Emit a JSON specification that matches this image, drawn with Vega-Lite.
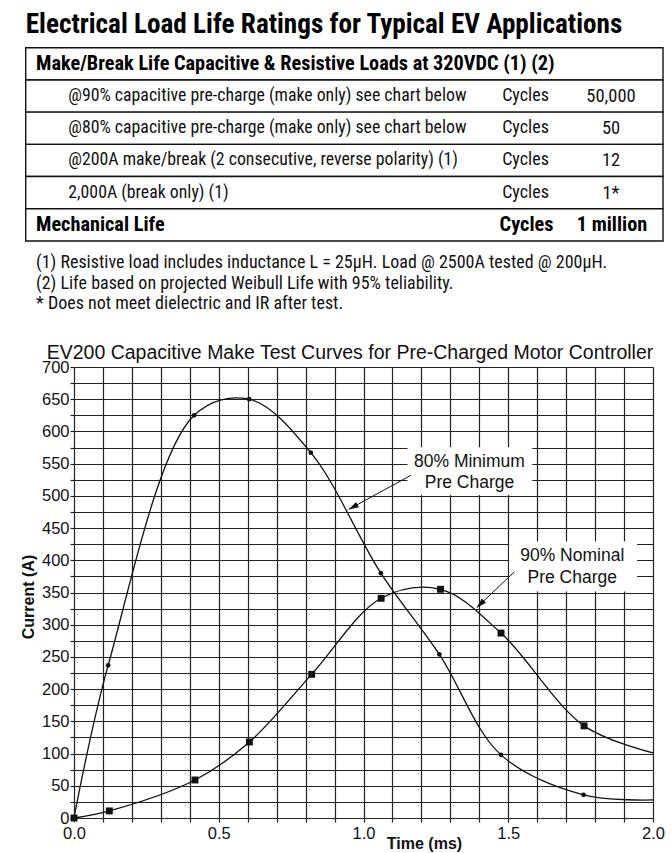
{
  "$schema": "https://vega.github.io/schema/vega-lite/v6.json",
  "autosize": {"type": "none"},
  "width": 579,
  "height": 451,
  "padding": {"left": 74, "top": 367, "right": 19, "bottom": 35},
  "background": "white",
  "config": {
    "view": {"stroke": null},
    "font": "Liberation Sans",
    "axis": {
      "domain": false,
      "grid": true,
      "gridColor": "#222222",
      "gridWidth": 1.2,
      "gridOpacity": 1,
      "tickColor": "#222222",
      "tickSize": 4,
      "tickWidth": 1.2,
      "labelColor": "#111111",
      "labelFont": "Liberation Sans",
      "labelFontSize": 16.5,
      "titleFont": "Liberation Sans",
      "titleFontSize": 16,
      "titleFontWeight": "bold",
      "titleColor": "#111111"
    }
  },
  "datasets": {
    "curves": [
      {"series": "80% Minimum Pre Charge", "t": 0, "i": 0},
      {"series": "80% Minimum Pre Charge", "t": 0.118, "i": 237},
      {"series": "80% Minimum Pre Charge", "t": 0.415, "i": 625},
      {"series": "80% Minimum Pre Charge", "t": 0.605, "i": 650},
      {"series": "80% Minimum Pre Charge", "t": 0.818, "i": 567},
      {"series": "80% Minimum Pre Charge", "t": 1.06, "i": 380},
      {"series": "80% Minimum Pre Charge", "t": 1.262, "i": 254},
      {"series": "80% Minimum Pre Charge", "t": 1.475, "i": 98},
      {"series": "80% Minimum Pre Charge", "t": 1.76, "i": 36},
      {"series": "80% Minimum Pre Charge", "t": 2.0, "i": 28},
      {"series": "90% Nominal Pre Charge", "t": 0, "i": 0},
      {"series": "90% Nominal Pre Charge", "t": 0.122, "i": 11},
      {"series": "90% Nominal Pre Charge", "t": 0.418, "i": 59},
      {"series": "90% Nominal Pre Charge", "t": 0.606, "i": 118},
      {"series": "90% Nominal Pre Charge", "t": 0.821, "i": 223},
      {"series": "90% Nominal Pre Charge", "t": 1.061, "i": 341},
      {"series": "90% Nominal Pre Charge", "t": 1.266, "i": 355},
      {"series": "90% Nominal Pre Charge", "t": 1.475, "i": 287},
      {"series": "90% Nominal Pre Charge", "t": 1.762, "i": 143},
      {"series": "90% Nominal Pre Charge", "t": 2.0, "i": 101}
    ],
    "boxes": [
      {"id": "a80", "t": 1.152, "t2": 1.583, "i": 501.5, "i2": 575.5},
      {"id": "a90", "t": 1.503, "t2": 1.945, "i": 351.5, "i2": 429}
    ],
    "arrows": [
      {"id": "a80", "t": 0.949, "i": 479, "t2": 1.164, "i2": 532},
      {"id": "a90", "t": 1.391, "i": 326.5, "t2": 1.521, "i2": 382}
    ],
    "labels": [
      {"id": "a80", "t": 1.366, "i": 553, "text": "80% Minimum"},
      {"id": "a80", "t": 1.366, "i": 520, "text": "Pre Charge"},
      {"id": "a90", "t": 1.721, "i": 406, "text": "90% Nominal"},
      {"id": "a90", "t": 1.721, "i": 373, "text": "Pre Charge"}
    ],
    "table": [
      {"row": 0, "col": "title", "text": "Electrical Load Life Ratings for Typical EV Applications"},
      {"row": 1, "col": "head", "text": "Make/Break Life Capacitive & Resistive Loads at 320VDC (1) (2)"},
      {"row": 2, "col": "desc", "text": "@90% capacitive pre-charge (make only) see chart below"},
      {"row": 2, "col": "unit", "text": "Cycles"},
      {"row": 2, "col": "value", "text": "50,000"},
      {"row": 3, "col": "desc", "text": "@80% capacitive pre-charge (make only) see chart below"},
      {"row": 3, "col": "unit", "text": "Cycles"},
      {"row": 3, "col": "value", "text": "50"},
      {"row": 4, "col": "desc", "text": "@200A make/break (2 consecutive, reverse polarity) (1)"},
      {"row": 4, "col": "unit", "text": "Cycles"},
      {"row": 4, "col": "value", "text": "12"},
      {"row": 5, "col": "desc", "text": "2,000A (break only) (1)"},
      {"row": 5, "col": "unit", "text": "Cycles"},
      {"row": 5, "col": "value", "text": "1*"},
      {"row": 6, "col": "head", "text": "Mechanical Life"},
      {"row": 6, "col": "unit", "text": "Cycles"},
      {"row": 6, "col": "value", "text": "1 million"}
    ],
    "notes": [
      {"line": "n1", "text": "(1) Resistive load includes inductance L = 25µH. Load @ 2500A tested @ 200µH."},
      {"line": "n2", "text": "(2) Life based on projected Weibull Life with 95% teliability."},
      {"line": "n3", "text": "* Does not meet dielectric and IR after test."},
      {"line": "ct", "text": "EV200 Capacitive Make Test Curves for Pre-Charged Motor Controller"}
    ]
  },
  "layer": [
    {
      "encoding": {
        "x": {
          "field": "t", "type": "quantitative",
          "scale": {"domain": [0, 2], "nice": false, "zero": false},
          "axis": {
            "values": [0, 0.1, 0.2, 0.3, 0.4, 0.5, 0.6, 0.7, 0.8, 0.9, 1, 1.1, 1.2, 1.3, 1.4, 1.5, 1.6, 1.7, 1.8, 1.9, 2],
            "labelExpr": "(datum.value * 2) % 1 == 0 ? format(datum.value, '.1f') : ''",
            "labelPadding": 3,
            "labelOverlap": false,
            "labelFlush": false,
            "title": "Time (ms)",
            "titleX": 350,
            "titleY": 30,
            "titleBaseline": "alphabetic",
            "titleAlign": "center"
          }
        },
        "y": {
          "field": "i", "type": "quantitative",
          "scale": {"domain": [0, 700], "nice": false},
          "axis": {
            "values": [0, 25, 50, 75, 100, 125, 150, 175, 200, 225, 250, 275, 300, 325, 350, 375, 400, 425, 450, 475, 500, 525, 550, 575, 600, 625, 650, 675, 700],
            "labelExpr": "datum.value % 50 == 0 ? format(datum.value, 'd') : ''",
            "labelPadding": 1,
            "labelOverlap": false,
            "labelFlush": false,
            "title": "Current (A)",
            "titleX": -40.7,
            "titleY": 229.5,
            "titleBaseline": "alphabetic",
            "titleAlign": "center",
            "titleAngle": -90
          }
        }
      },
      "layer": [
        {
          "data": {"name": "boxes"},
          "mark": {"type": "rect", "fill": "white", "strokeWidth": 0},
          "encoding": {"x2": {"field": "t2"}, "y2": {"field": "i2"}}
        },
        {
          "data": {"name": "curves"},
          "mark": {"type": "line", "interpolate": "catmull-rom", "color": "#111111", "strokeWidth": 1.3},
          "encoding": {"detail": {"field": "series", "type": "nominal"}}
        },
        {
          "data": {"name": "curves"},
          "transform": [{"filter": "datum.t < 2"}],
          "mark": {"type": "point", "filled": true, "color": "#111111", "opacity": 1},
          "encoding": {
            "shape": {"field": "series", "type": "nominal", "legend": null, "scale": {"domain": ["80% Minimum Pre Charge", "90% Nominal Pre Charge"], "range": ["circle", "square"]}},
            "size": {"field": "series", "type": "nominal", "legend": null, "scale": {"domain": ["80% Minimum Pre Charge", "90% Nominal Pre Charge"], "range": [22, 48]}}
          }
        },
        {
          "data": {"name": "arrows"},
          "mark": {"type": "rule", "color": "#111111", "strokeWidth": 1},
          "encoding": {"x2": {"field": "t2"}, "y2": {"field": "i2"}}
        },
        {
          "data": {"name": "arrows"},
          "transform": [{"filter": "datum.id == 'a80'"}],
          "mark": {"type": "point", "shape": "M0,0L0.6,2L-0.6,2Z", "size": 100, "filled": true, "color": "#111111", "opacity": 1, "angle": 241},
          "encoding": {}
        },
        {
          "data": {"name": "arrows"},
          "transform": [{"filter": "datum.id == 'a90'"}],
          "mark": {"type": "point", "shape": "M0,0L0.6,2L-0.6,2Z", "size": 100, "filled": true, "color": "#111111", "opacity": 1, "angle": 226},
          "encoding": {}
        },
        {
          "data": {"name": "labels"},
          "mark": {"type": "text", "align": "center", "baseline": "middle", "font": "Liberation Sans", "fontSize": 17.5, "color": "#111111"},
          "encoding": {"text": {"field": "text"}}
        }
      ]
    },
    {
      "data": {"name": "table"},
      "encoding": {
        "y": {"field": "row", "type": "ordinal", "axis": null, "scale": {"type": "band", "domain": [0, 1, 2, 3, 4, 5, 6], "range": [-351.5, -126], "paddingInner": 0, "paddingOuter": 0}},
        "x": {"datum": "left", "type": "nominal", "axis": null, "scale": {"type": "point", "domain": ["left", "right"], "range": [-48.3, 589], "padding": 0}}
      },
      "layer": [
        {
          "transform": [{"aggregate": [{"op": "count", "as": "cells"}], "groupby": ["row"]}, {"filter": "datum.row >= 1"}],
          "mark": {"type": "rect", "fill": "white", "stroke": "#111111", "strokeWidth": 1.4},
          "encoding": {"x2": {"datum": "right"}}
        },
        {
          "transform": [{"filter": "datum.col == 'title'"}],
          "mark": {"type": "text", "align": "left", "baseline": "alphabetic", "dy": 1, "font": "Roboto Condensed", "fontWeight": "bold", "fontSize": 27.2, "color": "#000000"},
          "encoding": {"text": {"field": "text"}}
        },
        {
          "transform": [{"filter": "datum.col == 'head'"}],
          "mark": {"type": "text", "align": "left", "baseline": "middle", "dx": 10.3, "font": "Roboto Condensed", "fontWeight": "bold", "fontSize": 20.3, "color": "#000000"},
          "encoding": {"text": {"field": "text"}}
        },
        {
          "transform": [{"filter": "datum.col == 'desc'"}],
          "mark": {"type": "text", "align": "left", "baseline": "middle", "dx": 42.6, "font": "Roboto Condensed", "fontWeight": "normal", "fontSize": 17.8, "color": "#111111"},
          "encoding": {"text": {"field": "text"}}
        },
        {
          "transform": [{"filter": "datum.col == 'unit' && datum.row < 6"}],
          "mark": {"type": "text", "align": "center", "baseline": "middle", "dx": -137.5, "font": "Roboto Condensed", "fontWeight": "normal", "fontSize": 18, "color": "#111111"},
          "encoding": {"x": {"datum": "right", "type": "nominal"}, "text": {"field": "text"}}
        },
        {
          "transform": [{"filter": "datum.col == 'value' && datum.row < 6"}],
          "mark": {"type": "text", "align": "center", "baseline": "middle", "dx": -52, "font": "Roboto Condensed", "fontWeight": "normal", "fontSize": 18.5, "color": "#111111"},
          "encoding": {"x": {"datum": "right", "type": "nominal"}, "text": {"field": "text"}}
        },
        {
          "transform": [{"filter": "datum.col == 'unit' && datum.row == 6"}],
          "mark": {"type": "text", "align": "center", "baseline": "middle", "dx": -136.5, "font": "Roboto Condensed", "fontWeight": "bold", "fontSize": 20.3, "color": "#000000"},
          "encoding": {"x": {"datum": "right", "type": "nominal"}, "text": {"field": "text"}}
        },
        {
          "transform": [{"filter": "datum.col == 'value' && datum.row == 6"}],
          "mark": {"type": "text", "align": "center", "baseline": "middle", "dx": -51, "font": "Roboto Condensed", "fontWeight": "bold", "fontSize": 20.3, "color": "#000000"},
          "encoding": {"x": {"datum": "right", "type": "nominal"}, "text": {"field": "text"}}
        }
      ]
    },
    {
      "data": {"name": "notes"},
      "encoding": {
        "y": {"field": "line", "type": "nominal", "sort": null, "axis": null, "scale": {"type": "band", "domain": ["n1", "n2", "n3", "ct"], "range": [-114.25, -32.25], "paddingInner": 0, "paddingOuter": 0}},
        "x": {"datum": "left", "type": "nominal", "axis": null, "scale": {"type": "point", "domain": ["left", "right"], "range": [-48.3, 589], "padding": 0}}
      },
      "layer": [
        {
          "transform": [{"filter": "datum.line != 'ct'"}],
          "mark": {"type": "text", "align": "left", "baseline": "middle", "dx": 10.3, "font": "Roboto Condensed", "fontWeight": "normal", "fontSize": 18, "color": "#111111"},
          "encoding": {"text": {"field": "text"}}
        },
        {
          "transform": [{"filter": "datum.line == 'ct'"}],
          "mark": {"type": "text", "align": "left", "baseline": "middle", "dx": 21, "dy": 28, "font": "Liberation Sans", "fontSize": 19.5, "color": "#111111"},
          "encoding": {"text": {"field": "text"}}
        }
      ]
    }
  ],
  "resolve": {"scale": {"x": "independent", "y": "independent"}, "axis": {"x": "independent", "y": "independent"}}
}
